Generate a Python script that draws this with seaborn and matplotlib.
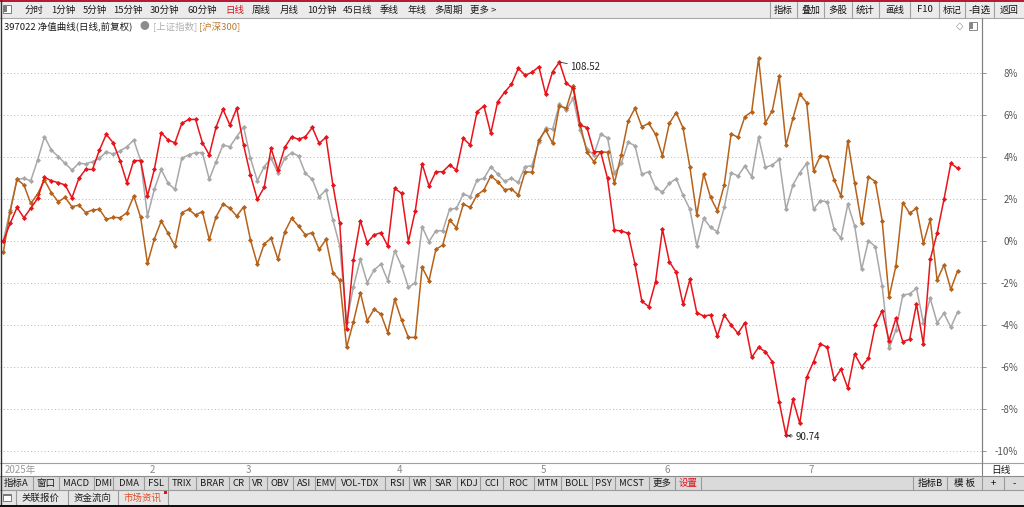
import numpy as np
import pandas as pd
import seaborn as sns
import matplotlib.pyplot as plt
from matplotlib.patches import Rectangle
from matplotlib.lines import Line2D

# 397022 净值曲线 vs 上证指数 / 沪深300, daily, % change since start (2025)
fund_pct = [0.00, 0.84, 1.60, 1.11, 1.56, 2.03, 3.03, 2.87, 2.78, 2.67,
            2.06, 2.98, 3.41, 3.41, 4.33, 5.08, 4.68, 3.83, 2.78, 3.83,
            3.83, 2.14, 3.41, 5.16, 4.81, 4.68, 5.60, 5.79, 5.79, 4.68,
            4.10, 5.44, 6.27, 5.52, 6.32, 4.57, 3.14, 1.98, 2.56, 4.41,
            3.38, 4.46, 4.97, 4.84, 4.97, 5.41, 4.65, 4.94, 2.67, 0.84,
            -4.21, -0.90, 0.97, -0.08, 0.29, 0.40, -0.24, 2.51, 2.27, -0.03,
            1.44, 3.67, 2.62, 3.30, 3.30, 3.62, 3.38, 4.89, 4.57, 6.16,
            6.43, 5.13, 6.63, 7.08, 7.46, 8.22, 7.90, 8.03, 8.30, 6.98,
            8.06, 8.52, 7.51, 7.27, 5.52, 5.40, 4.25, 4.25, 2.98, 0.52,
            0.48, 0.37, -1.11, -2.86, -3.13, -1.94, 0.57, -0.98, -1.49, -3.02,
            -1.83, -3.41, -3.57, -3.52, -4.52, -3.52, -4.00, -4.40, -3.89, -5.54,
            -5.06, -5.27, -5.75, -7.65, -9.26, -7.54, -8.68, -6.49, -5.75, -4.90,
            -5.06, -6.59, -6.11, -7.00, -5.38, -5.98, -5.59, -4.00, -3.32, -4.75,
            -3.68, -4.79, -4.68, -3.00, -4.90, -0.87, 0.37, 1.98, 3.70, 3.46]

sh_pct = [0.00, 1.48, 2.94, 2.98, 2.87, 3.86, 4.97, 4.33, 4.02, 3.70,
          3.38, 3.70, 3.67, 3.78, 3.94, 4.25, 4.14, 4.29, 4.49, 4.81,
          3.83, 1.19, 2.46, 3.41, 2.75, 2.46, 3.94, 4.10, 4.21, 4.21,
          2.94, 3.78, 4.57, 4.49, 4.97, 5.44, 3.94, 2.87, 3.54, 3.94,
          3.25, 3.94, 4.21, 4.05, 3.22, 2.94, 2.11, 2.43, 1.00, -0.22,
          -3.87, -2.17, -0.87, -1.98, -1.38, -1.10, -1.89, -0.46, -1.19, -2.21,
          -1.98, 0.68, -0.03, 0.49, 0.49, 1.51, 1.56, 2.24, 2.11, 2.90,
          2.98, 3.54, 3.19, 2.85, 2.98, 2.79, 3.54, 3.59, 4.70, 5.37,
          5.33, 6.51, 6.24, 6.79, 5.29, 4.38, 4.10, 5.08, 4.92, 3.22,
          3.70, 4.70, 4.54, 3.17, 3.30, 2.54, 2.32, 2.75, 2.97, 2.18,
          1.51, -0.24, 1.08, 0.65, 0.44, 1.60, 3.25, 3.10, 3.57, 3.06,
          4.94, 3.51, 3.62, 3.89, 1.51, 2.67, 3.25, 3.70, 1.51, 1.92,
          1.87, 0.56, 0.13, 1.76, 0.71, -1.35, 0.02, -0.27, -2.14, -5.11,
          -4.24, -2.57, -2.52, -2.25, -3.89, -2.73, -3.89, -3.44, -4.11, -3.37]

hs300_pct = [-0.54, 1.40, 2.94, 2.67, 1.79, 2.24, 2.90, 2.30, 1.87, 2.08,
             1.63, 1.71, 1.35, 1.48, 1.51, 1.03, 1.13, 1.11, 1.35, 2.14,
             1.13, -1.06, 0.10, 0.95, 0.37, -0.24, 1.35, 1.51, 1.24, 1.40,
             0.08, 1.16, 1.76, 1.56, 1.19, 1.63, 0.05, -1.10, -0.14, 0.13,
             -0.87, 0.44, 1.08, 0.71, 0.29, 0.40, -0.40, 0.08, -1.51, -1.86,
             -5.06, -3.84, -2.46, -3.79, -3.25, -3.48, -4.37, -2.78, -3.76, -4.59,
             -4.59, -1.25, -1.89, -0.40, -0.19, 1.00, 0.63, 1.76, 1.60, 2.19,
             2.43, 3.10, 2.83, 2.45, 2.48, 2.19, 3.30, 3.27, 4.81, 5.29,
             4.65, 6.44, 6.32, 7.40, 5.56, 4.25, 3.78, 4.25, 4.22, 2.75,
             4.10, 5.71, 6.32, 5.44, 5.60, 5.08, 4.06, 5.60, 6.12, 5.38,
             3.51, 1.24, 3.19, 2.08, 1.44, 2.67, 5.10, 4.94, 5.92, 6.16,
             8.70, 5.63, 6.21, 7.86, 4.57, 5.84, 7.00, 6.59, 3.35, 4.05,
             4.02, 2.92, 2.14, 4.78, 2.75, 0.84, 3.06, 2.83, 0.97, -2.68,
             -1.19, 1.83, 1.32, 1.56, -0.11, 1.03, -1.86, -1.14, -2.30, -1.41]

month_labels = ["2", "3", "4", "5", "6", "7"]
month_start = [21, 35, 57, 78, 96, 117]
y_ticks = [8, 6, 4, 2, 0, -2, -4, -6, -8, -10]
fund_max_label = "108.52"
fund_min_label = "90.74"

period_tabs = ["分时", "1分钟", "5分钟", "15分钟", "30分钟", "60分钟", "日线", "周线",
               "月线", "10分钟", "45日线", "季线", "年线", "多周期", "更多 >"]
right_buttons = ["指标", "叠加", "多股", "统计", "画线", "F10", "标记", "-自选", "返回"]
indicator_tabs = ["指标A", "窗口", "MACD", "DMI", "DMA", "FSL", "TRIX", "BRAR", "CR", "VR",
                  "OBV", "ASI", "EMV", "VOL-TDX", "RSI", "WR", "SAR", "KDJ", "CCI", "ROC",
                  "MTM", "BOLL", "PSY", "MCST", "更多", "设置"]
indicator_right = ["指标B", "模 板", "+", "-"]
bottom_tabs = ["关联报价", "资金流向", "市场资讯"]

series_names = ["上证指数", "沪深300", "净值曲线"]
colors = {"净值曲线": "#e8141c", "上证指数": "#a8a8a8", "沪深300": "#b5621b"}

sns.set_theme(style="white")
plt.rcParams['font.family'] = ['Noto Sans CJK SC', 'DejaVu Sans']

W, H = 1024, 507
fig = plt.figure(figsize=(W / 100, H / 100), dpi=100)
fig.patch.set_facecolor("white")


def fx(x):
    return x / W


def fy(y):
    return 1 - y / H


def box(x, y, w, h, fc, ec="none", lw=0.8, z=0):
    fig.add_artist(Rectangle((fx(x), fy(y + h)), w / W, h / H, transform=fig.transFigure,
                             facecolor=fc, edgecolor=ec, linewidth=lw, zorder=z))


def vline(x, y0, y1, color="#a0a0a0", lw=0.8):
    fig.add_artist(Line2D([fx(x), fx(x)], [fy(y0), fy(y1)], transform=fig.transFigure,
                          color=color, lw=lw))


def hline(y, x0, x1, color="#a0a0a0", lw=0.8):
    fig.add_artist(Line2D([fx(x0), fx(x1)], [fy(y), fy(y)], transform=fig.transFigure,
                          color=color, lw=lw))


def label(x, y, s, color="#111111", size=6.8, ha="left", **kw):
    fig.text(fx(x), fy(y), s, color=color, fontsize=size, ha=ha, va="center", **kw)


# ---- main chart ----
ax = fig.add_axes([0, fy(463), 982 / W, (463 - 18) / H])
n = len(fund_pct)
df = pd.DataFrame({
    "day": list(range(n)) * 3,
    "pct": sh_pct + hs300_pct + fund_pct,
    "series": ["上证指数"] * n + ["沪深300"] * n + ["净值曲线"] * n,
})
sns.lineplot(data=df, x="day", y="pct", hue="series", hue_order=series_names,
             palette=colors, style="series", style_order=series_names,
             markers={k: "D" for k in series_names}, dashes=False,
             markersize=2.6, markeredgewidth=0, linewidth=1.1, legend=False, ax=ax)

ax.set_xlim(-0.48, 142.54)
ax.set_ylim(-10.57, 10.62)
ax.set_xlabel("")
ax.set_ylabel("")
for v in y_ticks:
    ax.axhline(v, color="#b4b4b4", lw=0.7, ls=(0, (1, 2.5)), zorder=0)

for s in ["top", "left", "bottom"]:
    ax.spines[s].set_visible(False)
ax.spines["right"].set_color("#808080")
ax.spines["right"].set_linewidth(0.8)

ax.yaxis.tick_right()
ax.set_yticks(y_ticks)
ax.set_yticklabels([f"{v}%" for v in y_ticks])
ax.tick_params(axis="y", direction="out", length=3, width=0.6, color="#808080",
               labelcolor="#555555", labelsize=7, pad=23)
plt.setp(ax.get_yticklabels(), ha="right")

ax.set_xticks(month_start)
ax.set_xticklabels([])
minor = [m for m in np.arange(3.5, n, 3.5) if min(abs(m - s) for s in month_start) > 1.5]
ax.set_xticks(minor, minor=True)
ax.tick_params(axis="x", which="major", direction="out", length=9.4, width=0.6, color="#a0a0a0")
ax.tick_params(axis="x", which="minor", direction="out", length=2.2, width=0.6, color="#a0a0a0")
for pos, lab in zip(month_start, month_labels):
    ax.text(pos + 0.3, -0.0155, lab, transform=ax.get_xaxis_transform(),
            ha="left", va="center", fontsize=7, color="#888888")

imax = int(np.argmax(fund_pct))
imin = int(np.argmin(fund_pct))
ax.annotate(fund_max_label, xy=(imax, fund_pct[imax]), xytext=(8, -3.6),
            textcoords="offset points", fontsize=7, color="#222222", va="center", ha="left",
            arrowprops=dict(arrowstyle="-", color="#333333", lw=0.6, shrinkA=0, shrinkB=1))
ax.annotate(fund_min_label, xy=(imin, fund_pct[imin]), xytext=(7, -1.2),
            textcoords="offset points", fontsize=7, color="#222222", va="center", ha="left",
            arrowprops=dict(arrowstyle="->", color="#333333", lw=0.6, shrinkA=0, shrinkB=1,
                            mutation_scale=5))

# ---- title row ----
label(4, 26.5, "397022 净值曲线(日线,前复权)", color="#1a1a1a")
label(139, 26.5, "●", color="#8c8c8c", size=7)
label(153, 26.5, "[上证指数]", color="#b0b0b0")
label(199, 26.5, "[沪深300]", color="#c0782a")
label(956, 26, "◇", color="#888888", size=7, family="DejaVu Sans")
box(969, 22, 8, 8, "white", ec="#888888", lw=0.7, z=3)
box(970, 23, 3, 6, "#888888", z=3)

# ---- top toolbar ----
box(0, 0, W, 18, "#ebebeb")
box(0, 0, W, 1.6, "#b81a36", z=2)
hline(18, 0, W, color="#a8a8a8")
box(3, 5, 8, 8, "white", ec="#7a7a7a", lw=0.7, z=3)
box(4, 6, 3, 6, "#7a7a7a", z=3)
tab_x = [25, 51, 83, 113, 150, 187, 225, 252, 280, 307, 343, 380, 408, 434, 470]
for xx, lab in zip(tab_x, period_tabs):
    label(xx, 10, lab, color="#d8141c" if lab == "日线" else "#1a1a1a")
btn_sep = [770, 797, 824, 852, 879, 910, 939, 965, 994, 1024]
for i, lab in enumerate(right_buttons):
    label((btn_sep[i] + btn_sep[i + 1]) / 2, 10, lab, ha="center")
for xx in btn_sep[:-1]:
    vline(xx, 2, 18, color="#a0a0a0")

# ---- date strip ----
hline(463, 0, W, color="#a0a0a0")
vline(982, 18, 476, color="#808080")
label(5, 470, "2025年", color="#9a9a9a", size=7)
label(1001, 470, "日线", color="#1a1a1a", size=7, ha="center")

# ---- indicator tabs ----
box(0, 476, W, 14, "#dadada")
hline(476, 0, W, color="#8c8c8c")
ind_sep = [0, 33, 59, 94, 113, 144, 168, 196, 229, 249, 267, 293, 315, 335, 385, 409,
           430, 457, 480, 503, 534, 561, 592, 615, 649, 675, 701]
for i, lab in enumerate(indicator_tabs):
    label((ind_sep[i] + ind_sep[i + 1]) / 2, 483.3, lab, ha="center",
          color="#e0141c" if lab == "设置" else "#1a1a1a")
for xx in ind_sep[1:]:
    vline(xx, 476, 490, color="#9a9a9a")
right_sep = [913, 947, 982, 1004, 1024]
for i, lab in enumerate(indicator_right):
    label((right_sep[i] + right_sep[i + 1]) / 2, 483.3, lab, ha="center")
for xx in right_sep[:-1]:
    vline(xx, 476, 490, color="#9a9a9a")

# ---- bottom bar ----
box(0, 490, W, 15, "#e6e6e6")
hline(490, 0, W, color="#9a9a9a")
box(3, 494, 8, 7, "white", ec="#7a7a7a", lw=0.7, z=3)
box(3, 494, 8, 2, "#7a7a7a", z=3)
bot_sep = [16, 68, 118, 168]
for i, lab in enumerate(bottom_tabs):
    label((bot_sep[i] + bot_sep[i + 1]) / 2 - 1, 498, lab, ha="center",
          color="#e0502a" if lab == "市场资讯" else "#1a1a1a")
for xx in bot_sep:
    vline(xx, 490, 505, color="#9a9a9a")
box(164, 491, 3, 3, "#e0141c", z=3)
box(0, 505, W, 2, "#111111", z=3)
vline(0.5, 0, H, color="#303030", lw=1)

fig.savefig("out.png", dpi=100)
